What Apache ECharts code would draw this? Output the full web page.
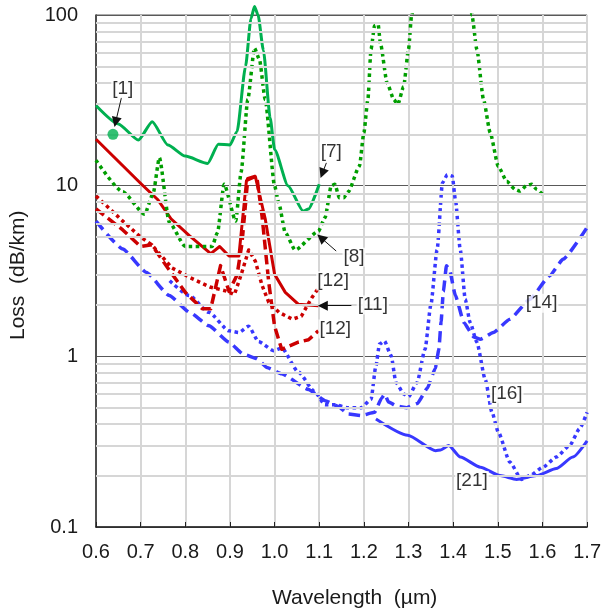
<!DOCTYPE html>
<html><head><meta charset="utf-8">
<script src="https://cdn.jsdelivr.net/npm/echarts@6/dist/echarts.min.js"></script>
<style>html,body{margin:0;padding:0;background:#fff}#c{width:604px;height:615px}</style>
</head><body><div id="c"></div>
<script>
// ---- data: [wavelength (µm), loss (dB/km)] ----
const ref1Point = [[0.638, 20]];
const ref7Solid = [[0.60,29.5],[0.65,23],[0.695,18.5],[0.726,23.7],[0.761,17.3],[0.80,14.9],[0.85,13.5],[0.874,17.5],[0.90,17.3],[0.916,20.8],[0.935,50],[0.947,95],[0.955,112],[0.963,100],[0.975,62],[0.99,25],[1.0,16.3],[1.03,10],[1.064,7.1],[1.076,7.3],[1.10,10.2]];
const ref8Dotted = [[0.60,14.1],[0.66,9.2],[0.709,6.8],[0.728,9],[0.742,14.6],[0.764,6.1],[0.80,4.4],[0.86,4.4],[0.872,5.3],[0.887,10.2],[0.913,6.2],[0.925,12],[0.94,32],[0.955,64],[0.966,55],[0.979,32],[1.0,10],[1.009,8],[1.024,5.3],[1.046,4.2],[1.098,5.4],[1.113,6.5],[1.127,10],[1.135,10.2],[1.145,8.5],[1.155,8.5],[1.165,9.2],[1.19,13],[1.20,20.4],[1.209,32],[1.216,63],[1.224,86.5],[1.232,87.8],[1.237,68.5],[1.252,40],[1.267,32],[1.276,29.9],[1.289,38],[1.30,63],[1.307,100],[1.33,300],[1.38,900],[1.43,300],[1.442,100],[1.453,63],[1.468,32],[1.483,20.4],[1.501,13],[1.52,10.6],[1.539,9.5],[1.55,9.3],[1.564,10],[1.576,10.2],[1.587,9.5],[1.60,8.9]];
const ref11Solid = [[0.60,18.7],[0.702,10.2],[0.738,8.3],[0.768,6.4],[0.809,5.1],[0.857,4.0],[0.877,4.4],[0.898,3.87],[0.92,3.87],[0.937,10.7],[0.957,11.3],[0.979,6.4],[1.0,3.03],[1.024,2.37],[1.053,2.02],[1.098,1.98]];
const ref12Dotted = [[0.60,8.7],[0.66,6.2],[0.70,5.0],[0.725,4.5],[0.77,3.3],[0.81,2.9],[0.855,2.55],[0.89,2.42],[0.91,2.3],[0.925,3.0],[0.942,4.2],[0.957,3.6],[0.972,2.6],[0.987,2.07],[1.01,1.81],[1.04,1.65],[1.06,1.72],[1.083,2.2],[1.10,2.55]];
const ref12Dashed = [[0.60,7.3],[0.66,5.5],[0.70,4.4],[0.725,4.5],[0.757,3.4],[0.80,2.37],[0.838,1.9],[0.857,1.9],[0.879,3.4],[0.898,2.4],[0.916,3.0],[0.927,4.6],[0.94,11],[0.96,11.4],[0.972,6.6],[0.987,2.7],[1.0,1.5],[1.016,1.1],[1.053,1.21],[1.076,1.25],[1.098,1.41]];
const ref14Dashed = [[0.60,6.2],[0.66,4.25],[0.713,3.1],[0.764,2.27],[0.81,1.81],[0.853,1.51],[0.898,1.21],[0.93,1.03],[0.96,0.97],[0.983,0.86],[1.016,0.79],[1.076,0.64],[1.113,0.55],[1.142,0.51],[1.164,0.46],[1.194,0.45],[1.224,0.47],[1.24,0.57],[1.247,0.6],[1.255,0.54],[1.275,0.51],[1.296,0.5],[1.32,0.53],[1.342,0.65],[1.36,0.85],[1.368,1.1],[1.373,1.6],[1.378,2.4],[1.385,3.4],[1.392,3.2],[1.405,2.27],[1.424,1.58],[1.446,1.3],[1.461,1.26],[1.49,1.38],[1.527,1.65],[1.572,2.16],[1.616,2.96],[1.646,3.7],[1.70,5.7]];
const ref16Dotted = [[0.765,2.77],[0.809,2.27],[0.853,1.81],[0.898,1.41],[0.92,1.38],[0.942,1.5],[0.964,1.22],[0.998,1.08],[1.016,1.12],[1.053,0.81],[1.09,0.62],[1.113,0.52],[1.135,0.52],[1.164,0.50],[1.194,0.50],[1.216,0.56],[1.227,0.88],[1.235,1.18],[1.246,1.23],[1.261,1.01],[1.272,0.70],[1.29,0.6],[1.30,0.58],[1.319,0.70],[1.337,1.1],[1.35,2.0],[1.364,4.2],[1.376,10.4],[1.387,11.6],[1.398,11.4],[1.405,8.3],[1.416,4.2],[1.427,2.16],[1.438,1.58],[1.453,1.21],[1.472,0.73],[1.487,0.47],[1.501,0.36],[1.527,0.24],[1.553,0.19],[1.572,0.20],[1.601,0.224],[1.631,0.257],[1.661,0.30],[1.683,0.376],[1.70,0.47]];
const ref21Solid = [[1.227,0.43],[1.298,0.345],[1.361,0.28],[1.372,0.283],[1.39,0.30],[1.416,0.257],[1.461,0.224],[1.505,0.20],[1.542,0.19],[1.587,0.20],[1.631,0.22],[1.668,0.257],[1.70,0.32]];
const refLabels = [[0.66,37,'[1]'],[1.127,15.9,'[7]'],[1.178,3.81,'[8]'],[1.131,2.76,'[12]'],[1.22,2.0,'[11]'],[1.136,1.445,'[12]'],[1.598,2.05,'[14]'],[1.52,0.603,'[16]'],[1.442,0.187,'[21]']];
const arrows = [[[0.657,32.8],[0.644,23.6]],[[1.116,13.6],[1.107,11.8]],[[1.138,4.14],[1.104,4.95]],[[1.172,1.98],[1.108,1.98]]];
const minorGrid = [0.2,0.3,0.4,0.5,0.6,0.7,0.8,0.9,2,3,4,5,6,7,8,9,20,30,40,50,60,70,80,90];
const xTicks = {min:0.6, max:1.7, interval:0.1};

const FONT = 'Liberation Sans, Arial, sans-serif';
const GREEN = '#00b050', GREEN_D = '#009e00', RED = '#cc0000', BLUE = '#3838ff';

function lineSeries(data, color, type, width, smooth, clip) {
  return {type:'line', data:data, symbol:'none', smooth:smooth, smoothMonotone:'x', clip:clip!==false, z:3,
    lineStyle:{color:color, width:width, type:type, cap:'butt', join:'round'}, silent:true};
}

const chart = echarts.init(document.getElementById('c'), null, {renderer:'canvas'});
chart.setOption({
  animation:false,
  backgroundColor:'#fff',
  grid:{left:96, right:13, top:15, bottom:88, show:true, borderColor:'#595959', borderWidth:1},
  xAxis:{type:'value', min:xTicks.min, max:xTicks.max, interval:xTicks.interval,
    axisLine:{show:true, lineStyle:{color:'#222', width:1.5}},
    axisTick:{show:true, inside:true, length:5, lineStyle:{color:'#222'}},
    axisLabel:{fontSize:20, color:'#1a1a1a', fontFamily:FONT, margin:15, formatter:v=>v.toFixed(1)},
    splitLine:{show:true, lineStyle:{color:'#d6d6d6', width:2}}},
  yAxis:{type:'log', logBase:10, min:0.1, max:100,
    axisLine:{show:true, lineStyle:{color:'#222', width:1.5}},
    axisTick:{show:false},
    axisLabel:{fontSize:20, color:'#1a1a1a', fontFamily:FONT, margin:18, formatter:v=> v>=1 ? String(Math.round(v)) : v.toFixed(1)},
    splitLine:{show:true, lineStyle:{color:'#595959', width:1}}},
  graphic:[
    {type:'text', left:272, top:588, style:{text:'Wavelength  (µm)', fontSize:21, fontFamily:FONT, fill:'#1a1a1a'}},
    {type:'text', x:8, y:340, rotation:Math.PI/2, style:{text:'Loss  (dB/km)', fontSize:21, fontFamily:FONT, fill:'#1a1a1a'}}
  ],
  series:[
    {type:'line', data:[], z:1, silent:true,
      markLine:{silent:true, symbol:'none', label:{show:false}, animation:false,
        lineStyle:{color:'#d6d6d6', width:2, type:'solid'},
        data:minorGrid.map(v=>({yAxis:v}))}},
    lineSeries(ref21Solid, BLUE, 'solid', 3, 0.2),
    lineSeries(ref14Dashed, BLUE, [11,6], 3.5, 0.15),
    lineSeries(ref16Dotted, BLUE, [3.5,3.5], 3.5, 0.2),
    lineSeries(ref12Dashed, RED, [10,5], 3.5, false),
    lineSeries(ref12Dotted, RED, [3.5,3.5], 3.5, false),
    lineSeries(ref11Solid, RED, 'solid', 3, false),
    lineSeries(ref8Dotted, GREEN_D, [3.5,3.5], 3.5, 0.2),
    lineSeries(ref7Solid, GREEN, 'solid', 3, 0.2, false),
    {type:'scatter', data:ref1Point, symbol:'circle', symbolSize:11, itemStyle:{color:GREEN}, z:7, silent:true},
    {type:'scatter', data:refLabels.map(d=>({value:[d[0],d[1]], name:d[2]})), symbolSize:0, z:6, silent:true,
      itemStyle:{color:'#000'},
      label:{show:true, position:'inside', formatter:p=>p.name, fontSize:19, fontFamily:FONT, color:'#000',
        textBorderWidth:0, textBorderColor:'transparent', backgroundColor:'#fff', padding:[0,1]},
      markLine:{silent:true, symbol:['none','triangle'], symbolSize:10, label:{show:false},
        lineStyle:{color:'#111', width:1, type:'solid'}, itemStyle:{color:'#111'},
        data:arrows.map(a=>[{coord:a[0]},{coord:a[1]}])}}
  ]
});
</script></body></html>
